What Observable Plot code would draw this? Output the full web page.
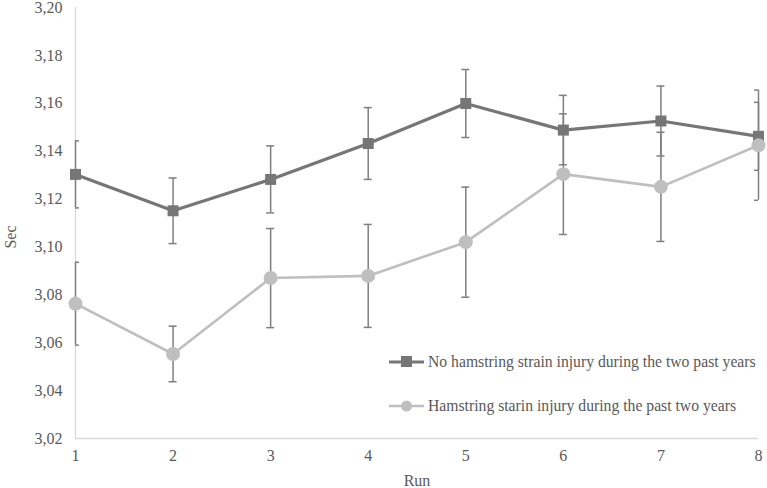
<!DOCTYPE html>
<html>
<head>
<meta charset="utf-8">
<script src="https://cdn.jsdelivr.net/npm/d3@7"></script>
<script src="https://cdn.jsdelivr.net/npm/@observablehq/plot@0.6"></script>
<style>
  html, body { margin: 0; padding: 0; background: #fff; }
  #wrap { position: relative; width: 767px; height: 488px; font-family: "Liberation Serif", "Times New Roman", serif; }
  #wrap svg g[aria-label="y-axis tick label"],
  #wrap svg g[aria-label="x-axis tick label"],
  #wrap svg g[aria-label="x-axis label"] { font-size: 16px; }
  #legend { position: absolute; left: 389px; top: 350px; font-size: 15.7px; color: #595959; }
  .item { display: flex; align-items: center; height: 24px; margin-bottom: 20px; white-space: nowrap; }
  .item svg { margin-right: 3px; }
</style>
</head>
<body>
<div id="wrap"><div id="legend"></div></div>
<script>
const runs = [1, 2, 3, 4, 5, 6, 7, 8];
const seriesNames = [
  "No hamstring strain injury during the two past years",
  "Hamstring starin injury during the past two years"
];
const noInjuryMean = [3.1303, 3.1151, 3.1282, 3.1432, 3.1599, 3.1488, 3.1526, 3.1462];
const noInjuryErr  = [0.0140, 0.0137, 0.0140, 0.0150, 0.0142, 0.0145, 0.0146, 0.0142];
const injuryMean   = [3.0763, 3.0553, 3.0870, 3.0879, 3.1020, 3.1304, 3.1251, 3.1425];
const injuryErr    = [0.0173, 0.0116, 0.0207, 0.0215, 0.0230, 0.0252, 0.0228, 0.0230];
const yTicks = [3.02, 3.04, 3.06, 3.08, 3.10, 3.12, 3.14, 3.16, 3.18, 3.20];

const colors = {[seriesNames[0]]: "#767676", [seriesNames[1]]: "#bfbfbf"};

const rows = [];
runs.forEach((r, i) => {
  rows.push({run: r, series: seriesNames[0], mean: noInjuryMean[i], err: noInjuryErr[i]});
  rows.push({run: r, series: seriesNames[1], mean: injuryMean[i], err: injuryErr[i]});
});
const s0 = rows.filter(d => d.series === seriesNames[0]);
const s1 = rows.filter(d => d.series === seriesNames[1]);

const errColor = "#7f7f7f";
const font = "Liberation Serif, Times New Roman, serif";
const txt = "#595959";

const chart = Plot.plot({
  width: 767,
  height: 488,
  marginLeft: 75,
  marginRight: 9,
  marginTop: 7,
  marginBottom: 50,
  style: {fontFamily: font, background: "#fff"},
  x: {domain: [1, 8]},
  y: {domain: [3.02, 3.20]},
  marks: [
    Plot.axisX({ticks: runs, tickSize: 0, tickPadding: 11, fontSize: 16, fill: txt, tickFormat: d => String(d),
      label: "Run", labelAnchor: "center", labelArrow: "none", labelOffset: 47}),
    Plot.axisY({ticks: yTicks, tickSize: 0, tickPadding: 13, fontSize: 16, fill: txt,
      tickFormat: d => d3.format(".2f")(d).replace(".", ","), label: null}),
    Plot.text(["Sec"], {frameAnchor: "left", rotate: -90, dx: -65, dy: 14, textAnchor: "middle", lineAnchor: "middle", fontSize: 16, fill: txt}),
    Plot.ruleX([1], {stroke: "#d9d9d9", strokeWidth: 1.3}),
    Plot.ruleY([3.02], {stroke: "#d9d9d9", strokeWidth: 1.3}),
    // error bars
    Plot.ruleX(rows, {x: "run", y1: d => d.mean - d.err, y2: d => d.mean + d.err, stroke: errColor, strokeWidth: 1.5}),
    Plot.ruleY(rows, {y: d => d.mean + d.err, x1: "run", x2: "run", insetLeft: -4, insetRight: -4, stroke: errColor, strokeWidth: 1.5, clip: "frame"}),
    Plot.ruleY(rows, {y: d => d.mean - d.err, x1: "run", x2: "run", insetLeft: -4, insetRight: -4, stroke: errColor, strokeWidth: 1.5, clip: "frame"}),
    // lines
    Plot.line(s0, {x: "run", y: "mean", stroke: colors[seriesNames[0]], strokeWidth: 3.2}),
    Plot.line(s1, {x: "run", y: "mean", stroke: colors[seriesNames[1]], strokeWidth: 2.6}),
    // markers
    Plot.dot(s0, {x: "run", y: "mean", symbol: "square", r: 6.2, fill: colors[seriesNames[0]], stroke: "none"}),
    Plot.dot(s1, {x: "run", y: "mean", symbol: "circle", r: 7, fill: colors[seriesNames[1]], stroke: "none"})
  ]
});
const wrap = document.getElementById("wrap");
wrap.insertBefore(chart, wrap.firstChild);

// legend
const legend = document.getElementById("legend");
seriesNames.forEach((name, i) => {
  const item = document.createElement("div");
  item.className = "item";
  const c = colors[name];
  const marker = i === 0
    ? `<rect x="12" y="6" width="11" height="11" fill="${c}"/>`
    : `<circle cx="17.5" cy="12" r="5.5" fill="${c}"/>`;
  item.innerHTML = `<svg width="36" height="24"><line x1="0" x2="35" y1="12" y2="12" stroke="${c}" stroke-width="${i === 0 ? 3.2 : 2.6}"/>${marker}</svg><span>${name}</span>`;
  legend.appendChild(item);
});
</script>
</body>
</html>
